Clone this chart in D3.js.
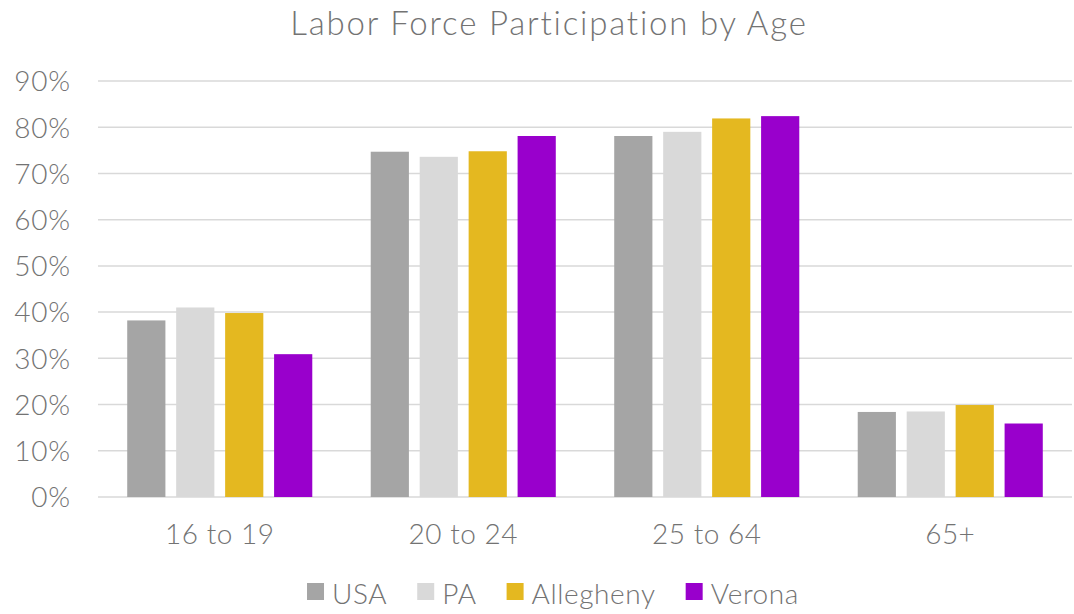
<!DOCTYPE html>
<html>
<head>
<meta charset="utf-8">
<script src="https://cdn.jsdelivr.net/npm/d3@7"></script>
<style>
  body { margin: 0; background: #fff; }
  text { font-family: Lato, "Open Sans", sans-serif; font-weight: 300; fill: #737373; }
</style>
</head>
<body>
<svg id="chart"></svg>
<script>
// categories and series
const ageGroups = ["16 to 19", "20 to 24", "25 to 64", "65+"];
const seriesNames = ["USA", "PA", "Allegheny", "Verona"];
const seriesColors = ["#a5a5a5", "#d9d9d9", "#e4b820", "#9900cc"];

// participation rate per series, in age group order
const usaValues = [0.382, 0.747, 0.781, 0.184];
const paValues = [0.410, 0.736, 0.790, 0.185];
const alleghenyValues = [0.398, 0.748, 0.819, 0.199];
const veronaValues = [0.309, 0.781, 0.824, 0.159];

const yTicks = [0, 0.1, 0.2, 0.3, 0.4, 0.5, 0.6, 0.7, 0.8, 0.9];

const allValues = [usaValues, paValues, alleghenyValues, veronaValues];

const width = 1074;
const height = 614;
const margin = {top: 81, right: 2, bottom: 117, left: 98};

const svg = d3.select("#chart")
    .attr("width", width)
    .attr("height", height);

// title
svg.append("text")
    .attr("x", 549)
    .attr("y", 35)
    .attr("text-anchor", "middle")
    .style("font-size", "33px")
    .style("letter-spacing", "1.8px")
    .text("Labor Force Participation by Age");

const y = d3.scaleLinear()
    .domain([0, 0.9])
    .range([height - margin.bottom, margin.top]);

const x0 = d3.scaleBand()
    .domain(ageGroups)
    .range([margin.left, width - margin.right])
    .paddingInner(0.24)
    .paddingOuter(0.12);

const x1 = d3.scaleBand()
    .domain(seriesNames)
    .range([0, x0.bandwidth()])
    .paddingInner(0.22);

// gridlines
svg.append("g")
    .selectAll("line")
    .data(yTicks)
    .join("line")
    .attr("x1", margin.left)
    .attr("x2", width - margin.right)
    .attr("y1", d => y(d))
    .attr("y2", d => y(d))
    .attr("stroke", "#d9d9d9")
    .attr("stroke-width", 1.5);

// y axis labels
const yAxis = svg.append("g")
    .attr("transform", `translate(${margin.left - 27},0)`)
    .call(d3.axisLeft(y).tickValues(yTicks).tickFormat(d3.format(".0%")).tickSize(0).tickPadding(0));
yAxis.select(".domain").remove();
yAxis.selectAll("text")
    .attr("dy", "0.35em")
    .style("font-size", "28px")
    .style("letter-spacing", "0.8px")
    .style("font-family", "Lato, sans-serif")
    .attr("fill", "#737373");

// x axis labels
const xAxis = svg.append("g")
    .attr("transform", `translate(0,${height - margin.bottom})`)
    .call(d3.axisBottom(x0).tickSize(0).tickPadding(0));
xAxis.select(".domain").remove();
xAxis.selectAll("text")
    .attr("dy", 0)
    .attr("y", 47)
    .style("font-size", "28px")
    .style("letter-spacing", "0.5px")
    .style("font-family", "Lato, sans-serif")
    .attr("fill", "#737373");

// bars
const groups = svg.append("g")
    .selectAll("g")
    .data(ageGroups)
    .join("g")
    .attr("transform", d => `translate(${x0(d)},0)`);

groups.selectAll("rect")
    .data((d, i) => seriesNames.map((s, j) => ({series: s, value: allValues[j][i], color: seriesColors[j]})))
    .join("rect")
    .attr("x", d => x1(d.series))
    .attr("width", x1.bandwidth())
    .attr("y", d => y(d.value))
    .attr("height", d => y(0) - y(d.value))
    .attr("fill", d => d.color);

// legend, centred under the plot
const legend = svg.append("g")
    .attr("transform", `translate(0,${height - 10})`);

const items = legend.selectAll("g")
    .data(seriesNames)
    .join("g");

items.append("rect")
    .attr("y", -21)
    .attr("width", 17)
    .attr("height", 17)
    .attr("fill", (d, i) => seriesColors[i]);

items.append("text")
    .attr("x", 25)
    .attr("y", 0)
    .style("font-size", "28px")
    .style("letter-spacing", "0.6px")
    .text(d => d);

let offset = 0;
const positions = [];
items.each(function() {
    positions.push(offset);
    offset += 25 + this.querySelector("text").getComputedTextLength() + 30;
});
const total = offset - 30;
const start = 553 - total / 2;
items.attr("transform", (d, i) => `translate(${start + positions[i]},0)`);
</script>
</body>
</html>
